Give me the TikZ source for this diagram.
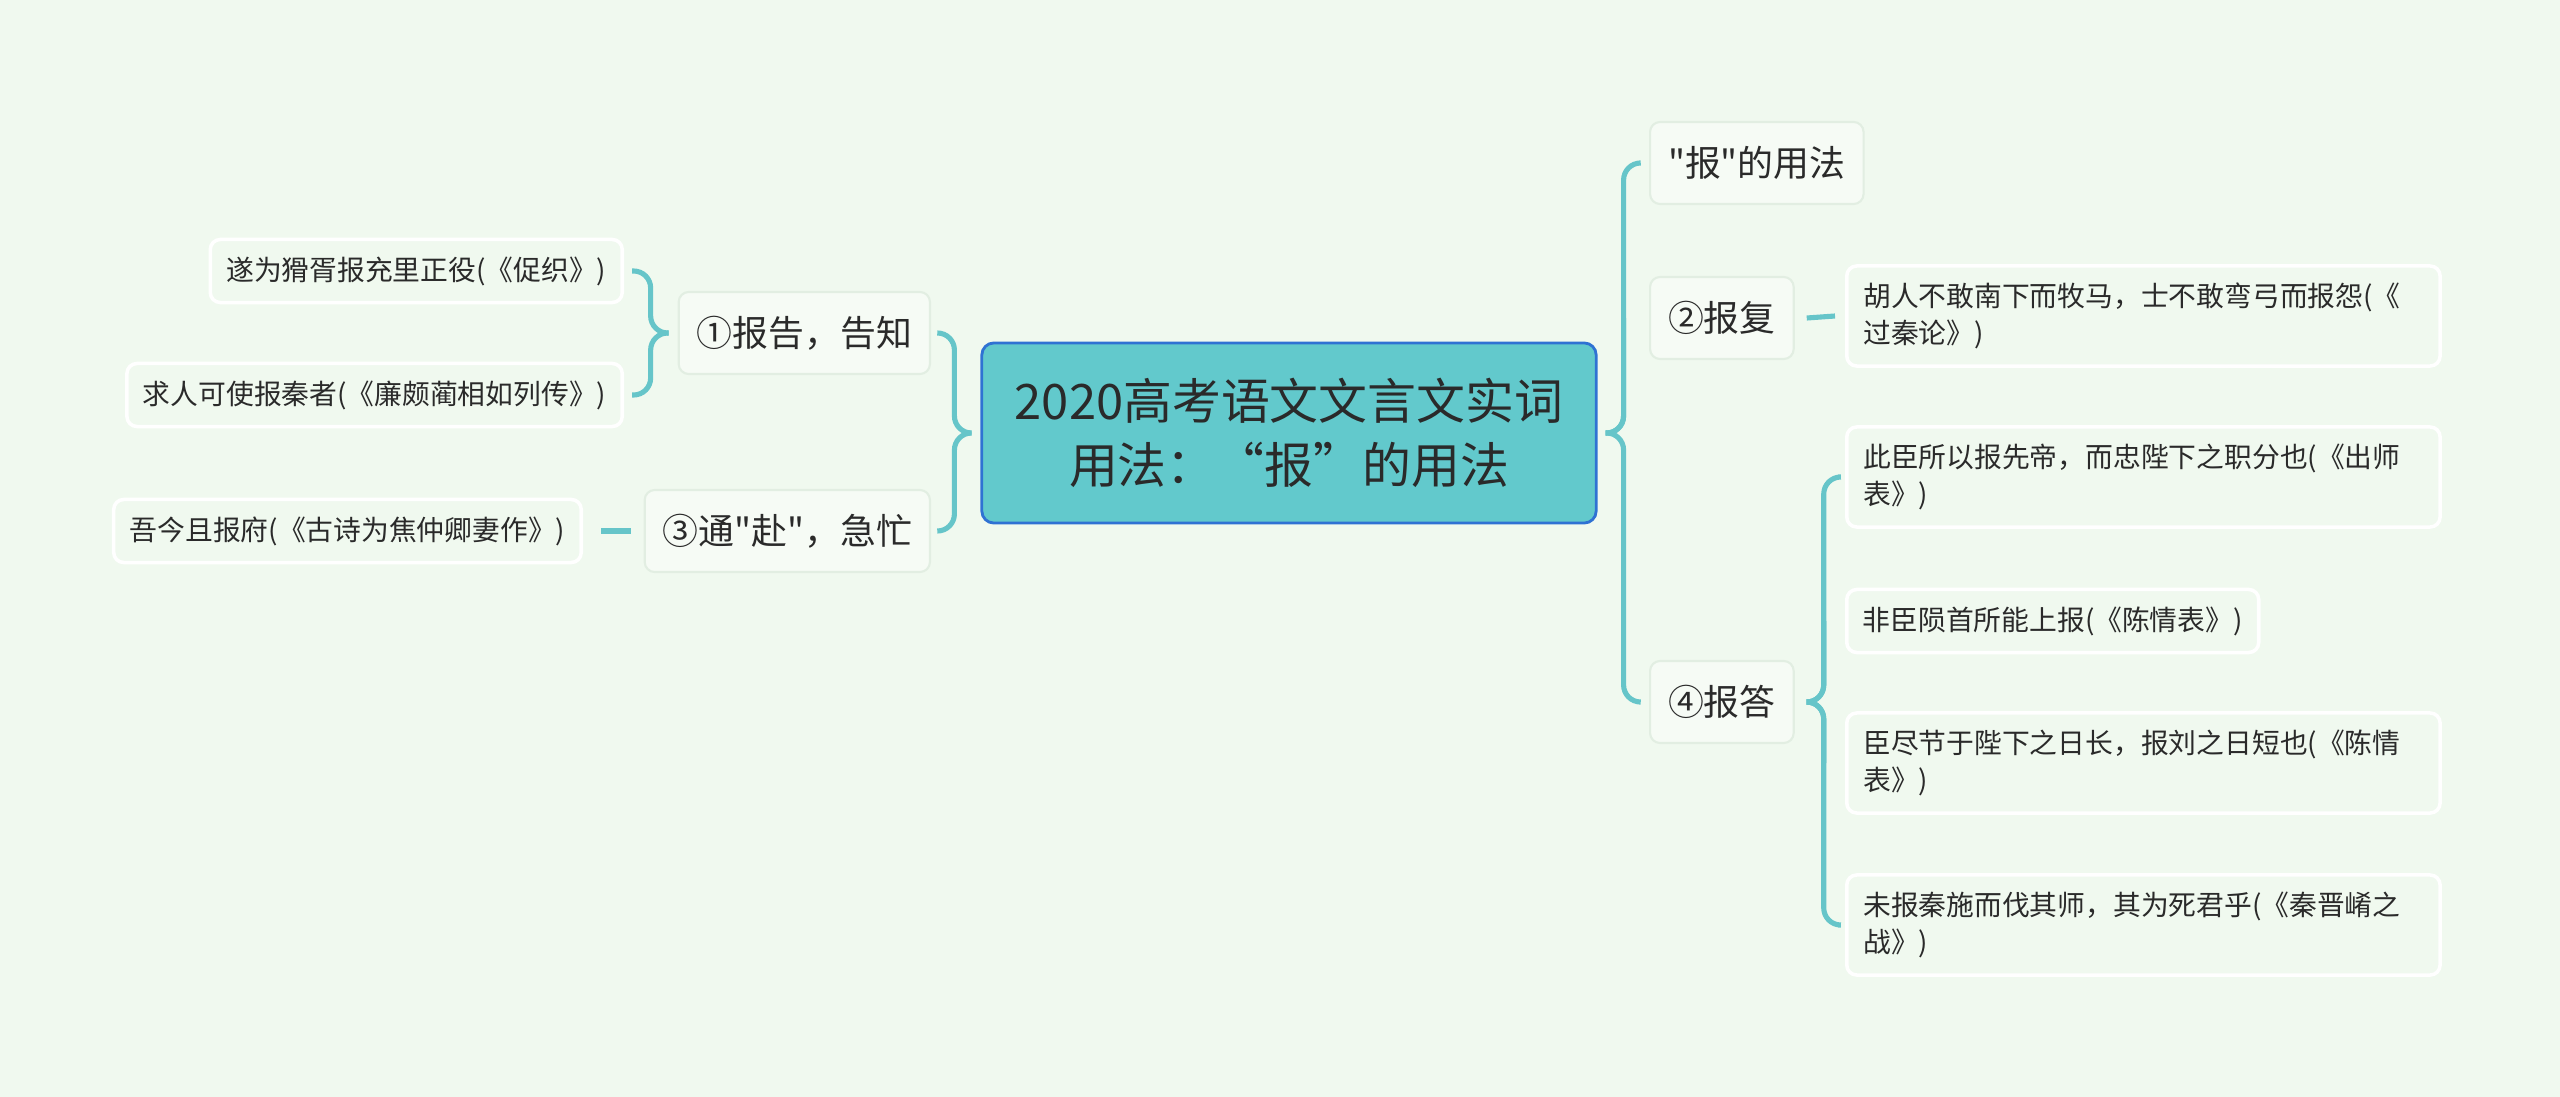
\documentclass[tikz,border=0pt]{standalone}
\usepackage{fontspec}
\setmainfont{Noto Sans CJK SC}
\newfontfamily\cjkplain{Noto Sans CJK SC}
\usetikzlibrary{calc}
\definecolor{bgmint}{HTML}{F0F9EF}
\definecolor{rootfill}{HTML}{62C9CC}
\definecolor{rootedge}{HTML}{2F72D3}
\definecolor{linkteal}{HTML}{66C5C9}
\definecolor{boxedge}{HTML}{E2EEE2}
\definecolor{inkgray}{HTML}{2A2A2A}

\begin{document}
\cjkplain
\begin{tikzpicture}[
  x=0.01cm, y=-0.01cm,
  text=inkgray,
  rootbox/.style={draw=rootedge, fill=rootfill, line width=0.8pt, rounded corners=0.12cm, minimum width=6.14cm, minimum height=1.8cm, align=center, font=\fontsize{13.9pt}{18.4pt}\selectfont},
  topicbox/.style={draw=boxedge, fill=bgmint!60!white, line width=0.6pt, rounded corners=0.1cm, minimum height=0.82cm, inner xsep=0.18cm, font=\fontsize{10.2pt}{13pt}\selectfont},
  leafbox/.style={draw=white, fill=bgmint, line width=1pt, rounded corners=0.1cm, minimum height=0.63cm, inner xsep=0.16cm, align=left, font=\fontsize{7.9pt}{10.5pt}\selectfont},
  leafwide/.style={leafbox, minimum height=1.0cm, text width=5.6cm, inner xsep=0.165cm},
  link/.style={draw=linkteal, line width=1.45pt, rounded corners=0.17cm}
]
\fill[bgmint] (0,0) rectangle (2560,1097);
\useasboundingbox (0,0) rectangle (2560,1097);

\node[rootbox] (root) at (1289,433) {2020高考语文文言文实词\\用法：“报”的用法};

\node[topicbox, anchor=east] (n1) at (931,333) {①报告，告知};
\node[topicbox, anchor=east] (n3) at (931,531) {③通"赴"，急忙};
\node[topicbox, anchor=west] (n0) at (1649,163) {"报"的用法};
\node[topicbox, anchor=west] (n2) at (1649,318) {②报复};
\node[topicbox, anchor=west] (n4) at (1649,702) {④报答};

\node[leafbox, anchor=east] (a1) at (624,271) {遂为猾胥报充里正役(《促织》)};
\node[leafbox, anchor=east] (a2) at (624,395) {求人可使报秦者(《廉颇蔺相如列传》)};
\node[leafbox, anchor=east] (c1) at (583,531) {吾今且报府(《古诗为焦仲卿妻作》)};
\node[leafwide, anchor=west] (b1) at (1845,316) {胡人不敢南下而牧马，士不敢弯弓而报怨(《\\过秦论》)};
\node[leafwide, anchor=west] (d1) at (1845,477) {此臣所以报先帝，而忠陛下之职分也(《出师\\表》)};
\node[leafbox, anchor=west] (d2) at (1845,621) {非臣陨首所能上报(《陈情表》)};
\node[leafwide, anchor=west] (d3) at (1845,763) {臣尽节于陛下之日长，报刘之日短也(《陈情\\表》)};
\node[leafwide, anchor=west] (d4) at (1845,925) {未报秦施而伐其师，其为死君乎(《秦晋崤之\\战》)};

% brace tips and bars
\coordinate (rtip) at ($(root.east)+(8,0)$);
\coordinate (rbar) at ($(root.east)+(26,0)$);
\coordinate (ltip) at ($(root.west)+(-9,0)$);
\coordinate (lbar) at ($(root.west)+(-26,0)$);
\coordinate (n1tip) at ($(n1.west)+(-9,0)$);
\coordinate (n1bar) at ($(n1.west)+(-27,0)$);
\coordinate (n4tip) at ($(n4.east)+(12,0)$);
\coordinate (n4bar) at ($(n4.east)+(29,0)$);

\draw[link] (rtip) -- (rbar) |- ($(n0.west)+(-10,0)$);
\draw[link] (rtip) -- (rbar) -- (rbar |- n2.west);
\draw[link] (rtip) -- (rbar) |- ($(n4.west)+(-10,0)$);

\draw[link] (ltip) -- (lbar) |- ($(n1.east)+(7,0)$);
\draw[link] (ltip) -- (lbar) |- ($(n3.east)+(7,0)$);

\draw[link] (n1tip) -- (n1bar) |- ($(a1.east)+(8,0)$);
\draw[link] (n1tip) -- (n1bar) |- ($(a2.east)+(8,0)$);

\draw[link] (n4tip) -- (n4bar) |- ($(d1.west)+(-7,0)$);
\draw[link] (n4tip) -- (n4bar) -- (n4bar |- d2.west);
\draw[link] (n4tip) -- (n4bar) -- (n4bar |- d3.west);
\draw[link] (n4tip) -- (n4bar) |- ($(d4.west)+(-7,0)$);

\draw[link] ($(n2.east)+(12,0)$) -- ($(b1.west)+(-10,0)$);
\draw[link] ($(n3.west)+(-13,0)$) -- ($(c1.east)+(18,0)$);

\end{tikzpicture}
\end{document}
